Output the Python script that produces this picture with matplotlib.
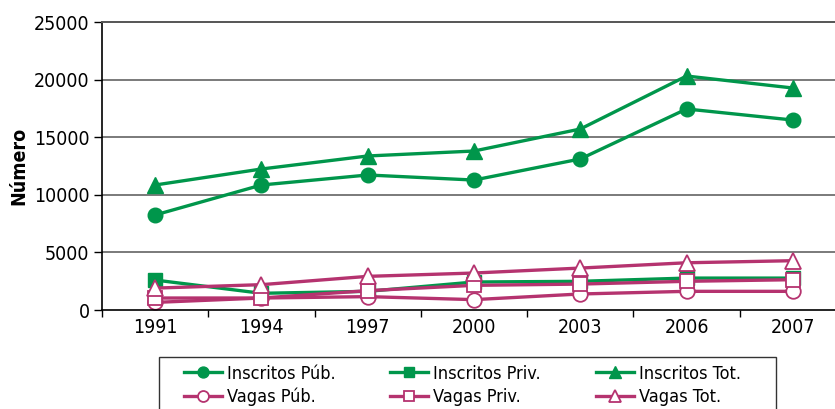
import matplotlib
matplotlib.use("Agg")
import matplotlib.pyplot as plt
from matplotlib.patches import Rectangle
from matplotlib.ticker import FixedLocator

plt.rcParams["font.family"] = ["DejaVu Sans"]
plt.rcParams["font.stretch"] = "condensed"

years = ["1991", "1994", "1997", "2000", "2003", "2006", "2007"]
inscritos_pub = [8250, 10850, 11720, 11280, 13110, 17450, 16490]
inscritos_priv = [2600, 1450, 1620, 2430, 2490, 2770, 2770]
inscritos_tot = [10850, 12240, 13370, 13800, 15710, 20310, 19270]
vagas_pub = [660, 1040, 1160, 900, 1390, 1620, 1620]
vagas_priv = [1040, 1040, 1680, 2140, 2250, 2490, 2630]
vagas_tot = [1900, 2200, 2920, 3210, 3640, 4100, 4280]

GREEN = "#00964b"
MAGENTA = "#b5336f"
W, H = 835, 409

fig = plt.figure(figsize=(W / 100, H / 100), dpi=100)
ax = fig.add_axes([102 / W, 1 - 310 / H, 744 / W, 288 / H])
x = list(range(len(years)))

kw = dict(lw=2.4, ms=10.5, clip_on=False)
ax.plot(x, inscritos_pub, color=GREEN, marker="o", label="Inscritos Púb.", **kw)
ax.plot(x, inscritos_priv, color=GREEN, marker="s", ms=9.5, lw=2.4,
        clip_on=False, label="Inscritos Priv.")
ax.plot(x, inscritos_tot, color=GREEN, marker="^", ms=11, lw=2.4,
        clip_on=False, label="Inscritos Tot.")
ax.plot(x, vagas_pub, color=MAGENTA, marker="o", mfc="white", mew=1.3,
        label="Vagas Púb.", **kw)
ax.plot(x, vagas_priv, color=MAGENTA, marker="s", mfc="white", mew=1.3,
        ms=9.5, lw=2.4, clip_on=False, label="Vagas Priv.")
ax.plot(x, vagas_tot, color=MAGENTA, marker="^", mfc="white", mew=1.3, ms=11,
        lw=2.4, clip_on=False, label="Vagas Tot.")

ax.set_xlim(-0.5, len(years) - 0.5)
ax.set_ylim(0, 25000)
ax.set_yticks([0, 5000, 10000, 15000, 20000, 25000])
ax.set_xticks(x)
ax.set_xticklabels(years)
ax.xaxis.set_minor_locator(FixedLocator([i - 0.5 for i in range(len(years) + 1)]))
ax.tick_params(axis="x", which="major", length=0, pad=6, labelsize=14)
ax.tick_params(axis="x", which="minor", length=5, width=1, direction="out")
ax.tick_params(axis="y", length=6, width=1, labelsize=14, pad=3)

for v in [5000, 10000, 15000, 20000]:
    ax.axhline(v, color="#7a7a7a", lw=1.4, zorder=0)
ax.spines["top"].set_color("#555555")
ax.spines["top"].set_linewidth(1.4)
ax.spines["right"].set_visible(False)
ax.spines["left"].set_linewidth(1.2)
ax.spines["bottom"].set_linewidth(1.2)

ax.set_ylabel("Número", fontsize=14, fontweight="bold", labelpad=4)

# legend box, cut off by the bottom edge like the original
fig.add_artist(Rectangle((159 / W, -0.05), (776 - 159) / W, 1 - 357 / H + 0.05,
                         transform=fig.transFigure, fill=False,
                         edgecolor="#333333", lw=1.0))

h, l = ax.get_legend_handles_labels()
for col, x0 in enumerate([184, 390, 596]):
    fig.legend([h[col], h[col + 3]], [l[col], l[col + 3]],
               loc="center left", bbox_to_anchor=(x0 / W, 1 - 385.5 / H),
               frameon=False, fontsize=13, handlelength=2.1,
               handletextpad=0.3, labelspacing=0.3, borderpad=0,
               borderaxespad=0, markerscale=0.75)

fig.savefig("out.png", dpi=100)
